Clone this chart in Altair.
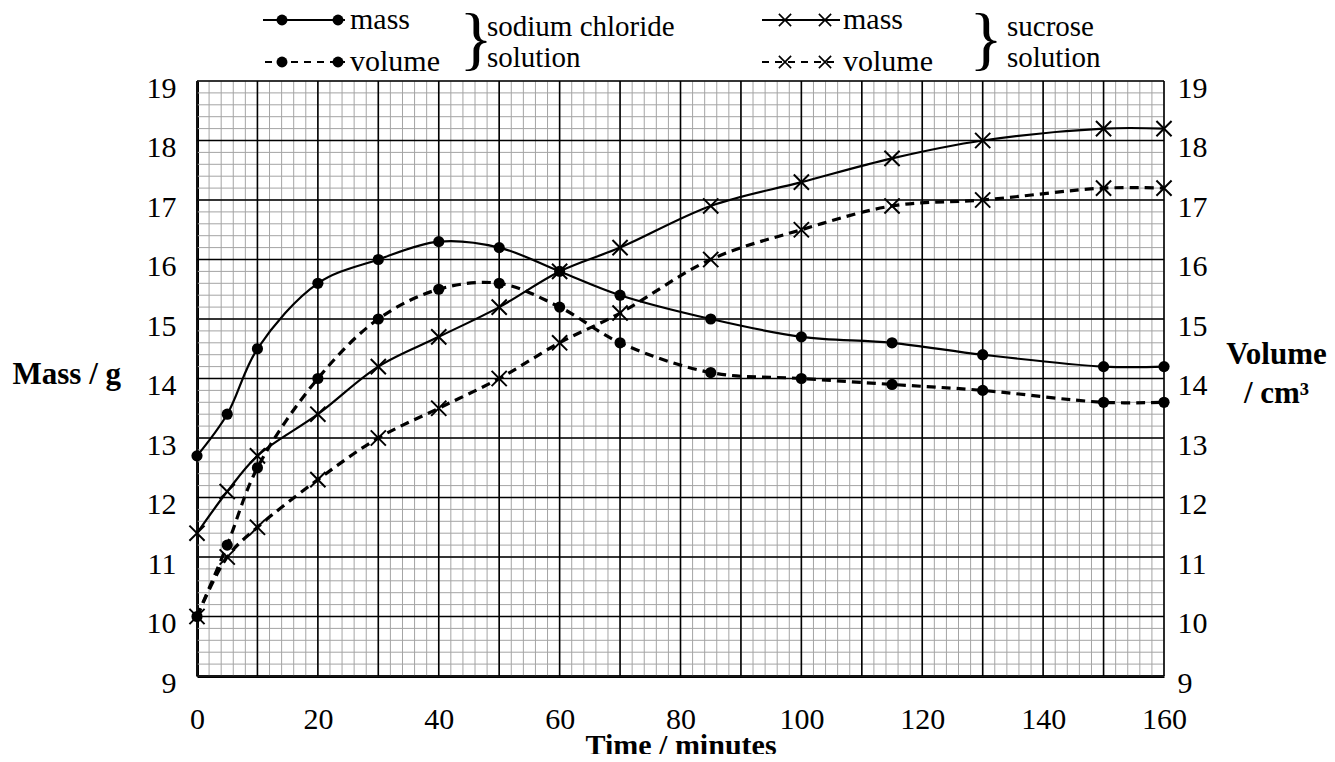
import altair as alt
import pandas as pd

# ---------------- data ----------------
time = [0, 5, 10, 20, 30, 40, 50, 60, 70, 85, 100, 115, 130, 150, 160]
nacl_mass = [12.7, 13.4, 14.5, 15.6, 16.0, 16.3, 16.2, 15.8, 15.4, 15.0, 14.7, 14.6, 14.4, 14.2, 14.2]
nacl_vol = [10.0, 11.2, 12.5, 14.0, 15.0, 15.5, 15.6, 15.2, 14.6, 14.1, 14.0, 13.9, 13.8, 13.6, 13.6]
suc_mass = [11.4, 12.1, 12.7, 13.4, 14.2, 14.7, 15.2, 15.8, 16.2, 16.9, 17.3, 17.7, 18.0, 18.2, 18.2]
suc_vol = [10.0, 11.0, 11.5, 12.3, 13.0, 13.5, 14.0, 14.6, 15.1, 16.0, 16.5, 16.9, 17.0, 17.2, 17.2]

x_labels = [0, 20, 40, 60, 80, 100, 120, 140, 160]
y_labels = [9, 10, 11, 12, 13, 14, 15, 16, 17, 18, 19]
x_major = list(range(0, 161, 10))
x_minor = list(range(0, 161, 2))
y_major = y_labels
y_minor = [round(9 + 0.2 * i, 1) for i in range(51)]

FONT = "Liberation Serif"
xs = alt.Scale(domain=[0, 160], nice=False, zero=False)
ys = alt.Scale(domain=[9, 19], nice=False, zero=False)

x_axis = alt.Axis(values=x_labels, title="Time / minutes", ticks=False, tickSize=0, grid=False,
                  domainColor="black", domainWidth=3, labelFont=FONT, labelFontSize=30,
                  labelColor="black", labelPadding=28, labelFlush=False,
                  titleFont=FONT, titleFontSize=30, titleFontWeight="bold", titleColor="black",
                  titleY=78, titleBaseline="alphabetic")

y_left_axis = alt.Axis(values=y_labels, title="Mass / g", ticks=False, tickSize=0, grid=False,
                       domainColor="black", domainWidth=3, labelFont=FONT, labelFontSize=30,
                       labelColor="black", labelPadding=21, labelOffset=7, labelBaseline="middle",
                       labelFlush=False,
                       titleFont=FONT, titleFontSize=31, titleFontWeight="bold", titleColor="black",
                       titleAngle=0, titleAlign="left", titleBaseline="alphabetic",
                       titleX=-185, titleY=302)

y_right_axis = alt.Axis(values=y_labels, title=["Volume", "/ cm³"], orient="right", ticks=False,
                        tickSize=0, grid=False, domain=False, labelFont=FONT, labelFontSize=30,
                        labelColor="black", labelPadding=13, labelOffset=7, labelBaseline="middle",
                        labelFlush=False,
                        titleFont=FONT, titleFontSize=31, titleFontWeight="bold", titleColor="black",
                        titleAngle=0, titleAlign="center", titleBaseline="alphabetic",
                        titleX=112, titleY=282, titleLineHeight=39)


def series_df(vals):
    return pd.DataFrame({"t": time, "v": vals})


# ---------------- grid ----------------
def vgrid(vals, color, w):
    return alt.Chart(pd.DataFrame({"t": vals})).mark_rule(color=color, strokeWidth=w).encode(
        x=alt.X("t:Q", scale=xs, axis=x_axis))


def hgrid(vals, color, w):
    return alt.Chart(pd.DataFrame({"g": vals})).mark_rule(color=color, strokeWidth=w).encode(
        y=alt.Y("g:Q", scale=ys, axis=None))


grid = [
    vgrid(x_minor, "#a4a4a4", 1),
    hgrid(y_minor, "#a4a4a4", 1),
    vgrid(x_major, "black", 1.6),
    hgrid(y_major, "black", 1.6),
]


def line(vals, dashed, yaxis=None):
    kw = dict(interpolate="catmull-rom", color="black")
    if dashed:
        kw.update(strokeWidth=3.2, strokeDash=[9, 6])
    else:
        kw.update(strokeWidth=2.2)
    return alt.Chart(series_df(vals)).mark_line(**kw).encode(
        x=alt.X("t:Q", scale=xs, axis=x_axis),
        y=alt.Y("v:Q", scale=ys, axis=yaxis),
    )


CROSS = "M-1,-1L1,1M1,-1L-1,1"


def dots(vals, kind):
    if kind == "circle":
        m = alt.Chart(series_df(vals)).mark_point(shape="circle", filled=True, size=125,
                                                  color="black", opacity=1)
    else:
        m = alt.Chart(series_df(vals)).mark_point(shape=CROSS, filled=False, size=230,
                                                  color="black", strokeWidth=2, opacity=1)
    return m.encode(x=alt.X("t:Q", scale=xs, axis=x_axis), y=alt.Y("v:Q", scale=ys, axis=None))


# ---------------- legend (drawn above the plot) ----------------
one = alt.Data(values=[{"k": 1}])


def leg_rule(x1, x2, y, dashed):
    kw = dict(color="black")
    if dashed:
        kw.update(strokeWidth=2, strokeDash=[7, 6])
    else:
        kw.update(strokeWidth=2)
    return alt.Chart(one).mark_rule(**kw).encode(x=alt.value(x1), x2=alt.value(x2), y=alt.value(y))


def leg_sym(x, y, kind):
    if kind == "circle":
        m = alt.Chart(one).mark_point(shape="circle", filled=True, size=120, color="black", opacity=1)
    else:
        m = alt.Chart(one).mark_point(shape=CROSS, filled=False, size=150, color="black",
                                      strokeWidth=1.6, opacity=1)
    return m.encode(x=alt.value(x), y=alt.value(y))


def leg_text(x, y, s, size=29, align="left"):
    return alt.Chart(one).mark_text(font=FONT, fontSize=size, align=align, baseline="middle",
                                    color="black").encode(x=alt.value(x), y=alt.value(y),
                                                          text=alt.value(s))


R1, R2 = -61, -19
legend = [
    leg_rule(66, 148, R1, False), leg_sym(85, R1, "circle"), leg_sym(141, R1, "circle"),
    leg_text(153, R1, "mass", size=30),
    leg_rule(68, 148, R2, True), leg_sym(85, R2, "circle"), leg_sym(141, R2, "circle"),
    leg_text(153, R2, "volume", size=30),
    leg_text(279, -40, "}", size=70, align="center"),
    leg_text(290, -54, "sodium chloride"), leg_text(290, -23, "solution"),
    leg_rule(565, 643, R1, False), leg_sym(588, R1, "cross"), leg_sym(628, R1, "cross"),
    leg_text(646, R1, "mass", size=30),
    leg_rule(565, 643, R2, True), leg_sym(588, R2, "cross"), leg_sym(628, R2, "cross"),
    leg_text(646, R2, "volume", size=30),
    leg_text(789, -40, "}", size=70, align="center"),
    leg_text(810, -54, "sucrose"), leg_text(810, -23, "solution"),
]

layers = grid + [
    line(nacl_mass, False, yaxis=y_left_axis),
    line(suc_mass, False),
    line(nacl_vol, True, yaxis=y_right_axis),
    line(suc_vol, True),
    dots(nacl_mass, "circle"),
    dots(nacl_vol, "circle"),
    dots(suc_mass, "cross"),
    dots(suc_vol, "cross"),
] + legend

chart = alt.layer(*layers).resolve_scale(y="independent").properties(
    width=967, height=595,
    autosize=alt.AutoSizeParams(type="none"),
    padding={"left": 189, "top": 73, "right": 163, "bottom": 78},
).configure(font=FONT).configure_view(stroke=None)

chart.save("out.html", embed_options={"renderer": "svg", "actions": False})
